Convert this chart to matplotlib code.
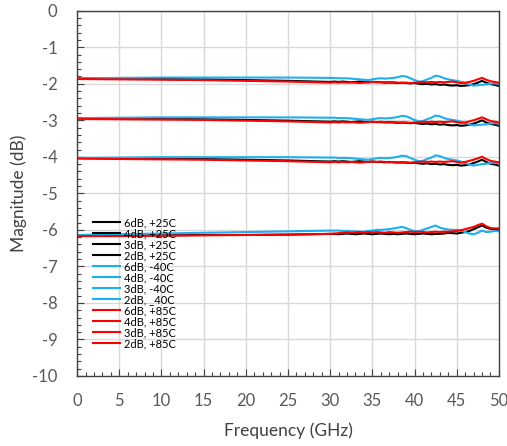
import numpy as np
import matplotlib
matplotlib.use('Agg')
import matplotlib.pyplot as plt
from matplotlib.ticker import MultipleLocator

# frequency grid (GHz): coarse in the flat part, finer where the traces wiggle
freq = np.concatenate([np.arange(0, 30, 5), np.arange(30, 50.01, 0.5)])

# +25C (black)
k6 = [-6.15, -6.15, -6.15, -6.14, -6.14, -6.13,
      -6.11, -6.11, -6.12, -6.11, -6.10, -6.11, -6.12, -6.11, -6.10, -6.11,
      -6.12, -6.11, -6.10, -6.11, -6.12, -6.11, -6.12, -6.11, -6.10, -6.11,
      -6.12, -6.11, -6.10, -6.11, -6.12, -6.11, -6.11, -6.10, -6.08, -6.09,
      -6.10, -6.08, -6.06, -6.03, -5.98, -5.93, -5.88, -5.94, -5.97, -5.99, -6.01]
k4 = [-4.03, -4.04, -4.05, -4.06, -4.08, -4.10,
      -4.13, -4.12, -4.13, -4.12, -4.13, -4.14, -4.13, -4.12, -4.13, -4.14,
      -4.13, -4.14, -4.14, -4.15, -4.14, -4.15, -4.16, -4.15, -4.16, -4.17,
      -4.16, -4.18, -4.19, -4.18, -4.20, -4.19, -4.21, -4.20, -4.22, -4.23,
      -4.22, -4.24, -4.23, -4.21, -4.17, -4.13, -4.08, -4.14, -4.19, -4.21, -4.24]
k3 = [-2.94, -2.95, -2.96, -2.97, -2.99, -3.01,
      -3.04, -3.03, -3.04, -3.03, -3.04, -3.05, -3.04, -3.03, -3.04, -3.05,
      -3.04, -3.05, -3.05, -3.06, -3.05, -3.06, -3.07, -3.06, -3.07, -3.08,
      -3.07, -3.09, -3.10, -3.09, -3.11, -3.10, -3.12, -3.11, -3.13, -3.14,
      -3.13, -3.15, -3.14, -3.12, -3.09, -3.05, -3.00, -3.06, -3.10, -3.12, -3.15]
k2 = [-1.85, -1.86, -1.87, -1.88, -1.90, -1.92,
      -1.95, -1.94, -1.95, -1.94, -1.95, -1.96, -1.95, -1.94, -1.95, -1.96,
      -1.95, -1.95, -1.96, -1.97, -1.96, -1.97, -1.98, -1.97, -1.98, -1.99,
      -1.98, -2.00, -2.01, -2.00, -2.02, -2.01, -2.03, -2.02, -2.04, -2.05,
      -2.04, -2.06, -2.05, -2.04, -2.01, -1.97, -1.92, -1.97, -2.01, -2.03, -2.06]

# -40C (blue)
b6 = [-6.14, -6.12, -6.10, -6.08, -6.06, -6.04,
      -6.02, -6.02, -6.02, -6.03, -6.03, -6.04, -6.04, -6.05, -6.05, -6.03,
      -6.02, -6.00, -6.00, -5.99, -5.98, -5.96, -5.94, -5.92, -5.95, -6.00,
      -6.03, -6.04, -6.00, -5.96, -5.92, -5.88, -5.94, -5.97, -5.99, -6.00,
      -6.00, -6.02, -6.06, -6.10, -6.12, -6.08, -6.02, -6.06, -6.05, -6.03, -6.04]
b4 = [-4.03, -4.02, -4.01, -4.01, -4.01, -4.01,
      -4.02, -4.02, -4.03, -4.03, -4.03, -4.04, -4.05, -4.06, -4.07, -4.08,
      -4.06, -4.04, -4.03, -4.04, -4.03, -4.02, -4.00, -3.97, -3.98, -4.03,
      -4.08, -4.12, -4.11, -4.06, -4.02, -3.96, -3.98, -4.03, -4.06, -4.08,
      -4.10, -4.13, -4.17, -4.21, -4.24, -4.22, -4.20, -4.19, -4.17, -4.16, -4.18]
b3 = [-2.94, -2.93, -2.92, -2.92, -2.92, -2.92,
      -2.93, -2.93, -2.94, -2.94, -2.94, -2.95, -2.96, -2.97, -2.98, -2.99,
      -2.97, -2.95, -2.94, -2.95, -2.94, -2.93, -2.91, -2.88, -2.89, -2.94,
      -2.99, -3.03, -3.02, -2.97, -2.93, -2.87, -2.89, -2.94, -2.97, -2.99,
      -3.01, -3.04, -3.07, -3.11, -3.14, -3.13, -3.12, -3.11, -3.09, -3.08, -3.09]
b2 = [-1.85, -1.84, -1.83, -1.83, -1.83, -1.83,
      -1.84, -1.84, -1.85, -1.85, -1.85, -1.86, -1.87, -1.88, -1.89, -1.90,
      -1.88, -1.86, -1.85, -1.86, -1.85, -1.84, -1.82, -1.79, -1.80, -1.85,
      -1.90, -1.94, -1.93, -1.88, -1.84, -1.78, -1.80, -1.85, -1.88, -1.90,
      -1.92, -1.95, -1.98, -2.02, -2.05, -2.04, -2.03, -2.02, -2.00, -1.99, -2.00]

# +85C (red)
r6 = [-6.17, -6.17, -6.16, -6.15, -6.14, -6.13,
      -6.11, -6.10, -6.09, -6.08, -6.07, -6.08, -6.07, -6.06, -6.07, -6.06,
      -6.07, -6.06, -6.07, -6.08, -6.06, -6.07, -6.08, -6.07, -6.06, -6.05,
      -6.06, -6.05, -6.06, -6.07, -6.06, -6.05, -6.06, -6.05, -6.05, -6.04,
      -6.03, -6.01, -5.98, -5.95, -5.92, -5.87, -5.83, -5.90, -5.95, -5.96, -5.96]
r4 = [-4.05, -4.06, -4.07, -4.08, -4.10, -4.12,
      -4.15, -4.14, -4.15, -4.14, -4.15, -4.14, -4.15, -4.16, -4.15, -4.14,
      -4.13, -4.14, -4.13, -4.14, -4.15, -4.14, -4.15, -4.16, -4.15, -4.16,
      -4.15, -4.14, -4.13, -4.14, -4.13, -4.14, -4.13, -4.14, -4.13, -4.12,
      -4.14, -4.16, -4.14, -4.11, -4.08, -4.04, -4.00, -4.06, -4.11, -4.13, -4.15]
r3 = [-2.96, -2.97, -2.98, -2.99, -3.01, -3.03,
      -3.06, -3.05, -3.06, -3.05, -3.06, -3.05, -3.06, -3.07, -3.06, -3.05,
      -3.04, -3.05, -3.04, -3.05, -3.06, -3.05, -3.06, -3.07, -3.06, -3.07,
      -3.06, -3.05, -3.04, -3.05, -3.04, -3.05, -3.04, -3.05, -3.04, -3.03,
      -3.05, -3.07, -3.06, -3.03, -3.00, -2.96, -2.92, -2.97, -3.02, -3.04, -3.06]
r2 = [-1.87, -1.88, -1.89, -1.90, -1.92, -1.94,
      -1.97, -1.96, -1.97, -1.96, -1.97, -1.96, -1.97, -1.98, -1.97, -1.96,
      -1.95, -1.96, -1.95, -1.96, -1.97, -1.96, -1.97, -1.98, -1.97, -1.98,
      -1.97, -1.96, -1.95, -1.96, -1.95, -1.96, -1.95, -1.96, -1.95, -1.94,
      -1.96, -1.98, -1.97, -1.95, -1.92, -1.88, -1.84, -1.89, -1.93, -1.95, -1.97]

labels = ["6dB, +25C", "4dB, +25C", "3dB, +25C", "2dB, +25C",
          "6dB, -40C", "4dB, -40C", "3dB, -40C", "2dB, _40C",
          "6dB, +85C", "4dB, +85C", "3dB, +85C", "2dB, +85C"]
series = [k6, k4, k3, k2, b6, b4, b3, b2, r6, r4, r3, r2]
colors = ["#000000"] * 4 + ["#1cb0f0"] * 4 + ["#ff0000"] * 4

plt.rcParams['font.family'] = ['Lato', 'DejaVu Sans']
plt.rcParams['axes.unicode_minus'] = False

fig = plt.figure(figsize=(5.07, 4.46), dpi=100)
ax = fig.add_axes([0.152, 0.157, 0.832, 0.819])

for y, c, lab in zip(series, colors, labels):
    ax.plot(freq, y, color=c, lw=1.5, label=lab)

ax.set_xlim(0, 50)
ax.set_ylim(-10, 0)
ax.xaxis.set_major_locator(MultipleLocator(5))
ax.xaxis.set_minor_locator(MultipleLocator(1))
ax.yaxis.set_major_locator(MultipleLocator(1))
ax.yaxis.set_minor_locator(MultipleLocator(0.2))
ax.grid(True, which='major', color='#d9d9d9', lw=1)
ax.set_axisbelow(True)

ax.tick_params(which='both', direction='in', colors='#404040', labelcolor='#595959',
               labelsize=12)
ax.tick_params(which='major', length=5, width=0.8)
ax.tick_params(which='minor', length=3, width=0.8)
ax.tick_params(axis='x', pad=12)
ax.tick_params(axis='y', pad=14)
for s in ax.spines.values():
    s.set_color('#404040')
    s.set_linewidth(1)

ax.set_xlabel('Frequency (GHz)', fontsize=12.5, color='#404040', labelpad=10)
ax.set_ylabel('Magnitude (dB)', fontsize=12.5, color='#404040', labelpad=4)

ax.legend(loc='lower left', bbox_to_anchor=(0.02, 0.052), frameon=False,
          handlelength=2.4, handletextpad=0.4, labelspacing=0.0,
          borderpad=0.2, prop={'family': 'Lato', 'size': 8})

fig.savefig('out.png', dpi=100)
